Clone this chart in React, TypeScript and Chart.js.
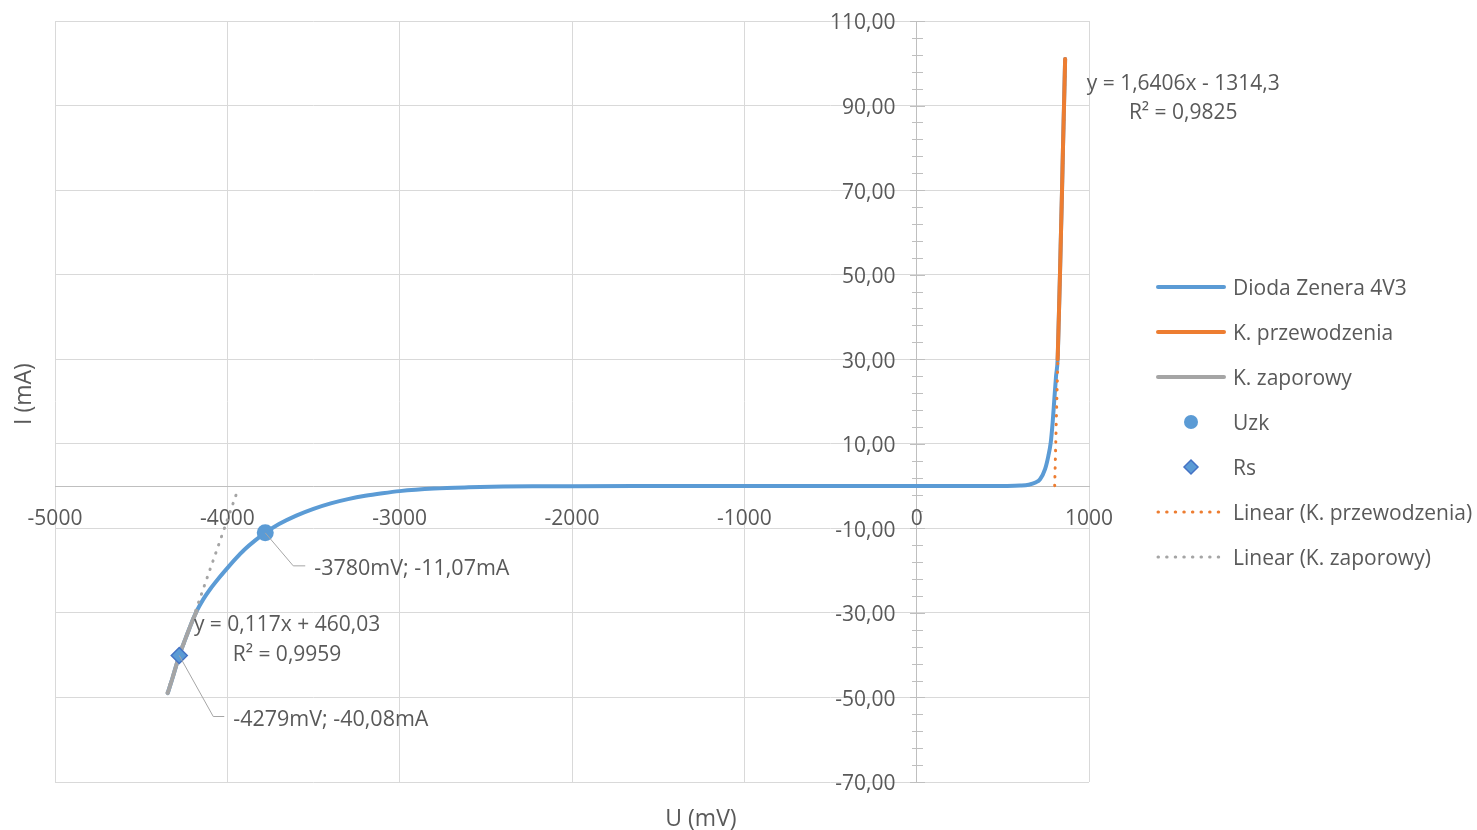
import React, { useEffect, useRef } from "react";
import { Chart, registerables } from "chart.js";

Chart.register(...registerables);

// ---------- data ----------
const xTicks = [-5000, -4000, -3000, -2000, -1000, 0, 1000];
const yTicks = [-70, -50, -30, -10, 10, 30, 50, 70, 90, 110];
const yMinorStep = 4;

// Dioda Zenera 4V3 (U in mV, I in mA)
const diodeU = [
  -4346, -4318, -4279, -4240, -4210, -4178, -4140, -4100, -4050, -4000, -3950, -3900, -3840, -3780,
  -3700, -3600, -3500, -3400, -3300, -3200, -3100, -3000, -2800, -2600, -2400, -2200, -2000, -1500,
  -1000, -500, 0, 200, 400, 500, 600, 650, 690, 716, 745, 764, 778, 789, 799, 809, 818, 825, 831.5,
  837.5, 843.5, 849, 855, 861.5,
];
const diodeI = [
  -49.0, -45.4, -40.08, -35.8, -32.6, -29.6, -26.8, -24.4, -21.8, -19.4, -17.1, -15.0, -12.9, -11.07,
  -9.0, -7.0, -5.4, -4.1, -3.1, -2.3, -1.7, -1.2, -0.6, -0.3, -0.12, -0.05, -0.02, -0.01,
  0, 0, 0, 0, 0, 0.03, 0.12, 0.32, 0.85, 1.6, 4.0, 7.1, 10.3, 15.0, 20.6, 26.1, 30.0, 40.0, 50.0,
  60.0, 70.0, 80.0, 90.0, 101.0,
];

// K. przewodzenia (forward part)
const forwardU = [818, 825, 831.5, 837.5, 843.5, 849, 855, 861.5];
const forwardI = [30.0, 40.0, 50.0, 60.0, 70.0, 80.0, 90.0, 101.0];

// K. zaporowy (reverse part)
const reverseU = [-4346, -4318, -4279, -4240, -4210, -4178];
const reverseI = [-49.0, -45.4, -40.08, -35.8, -32.6, -29.6];

// single points
const uzkU = [-3780];
const uzkI = [-11.07];
const rsU = [-4279];
const rsI = [-40.08];

// trendlines (end points)
const trendForwardU = [801, 862];
const trendForwardI = [0.1, 99.9];
const trendReverseU = [-4350, -3935];
const trendReverseI = [-48.9, -0.4];

const eqForward = ["y = 1,6406x - 1314,3", "R² = 0,9825"];
const eqReverse = ["y = 0,117x + 460,03", "R² = 0,9959"];

const xTitle = "U (mV)";
const yTitle = "I (mA)";

// ---------- styles ----------
const BLUE = "#5b9bd5";
const ORANGE = "#ed7d31";
const GRAY = "#a5a5a5";
const DARKBLUE = "#4472c4";
const TEXT = "#595959";
const FONT = '"Open Sans", sans-serif';
const DY = 2.5; // vertical text nudge

const pts = (xs: number[], ys: number[]) => xs.map((x, i) => ({ x, y: ys[i] }));
const fmtComma = (v: number) => v.toFixed(2).replace(".", ",");

const legendOrder = [0, 1, 2, 3, 4, 5, 6];

const decor = {
  id: "decor",
  beforeDatasetsDraw(chart: any) {
    const { ctx, scales } = chart;
    const x = scales.x;
    const y = scales.y;
    const ax = Math.round(x.getPixelForValue(0)) + 0.5;
    const ay = y.getPixelForValue(0);
    ctx.save();
    ctx.strokeStyle = "#bfbfbf";
    ctx.lineWidth = 1;
    const y0 = yTicks[0];
    const y1 = yTicks[yTicks.length - 1];
    for (let v = y0; v <= y1 + 1e-9; v += yMinorStep) {
      const py = Math.round(y.getPixelForValue(v)) + 0.5;
      ctx.beginPath();
      ctx.moveTo(ax - 5.5, py);
      ctx.lineTo(ax + 5.5, py);
      ctx.stroke();
    }
    y.ticks.forEach((t: any) => {
      const py = Math.round(y.getPixelForValue(t.value)) + 0.5;
      ctx.beginPath();
      ctx.moveTo(ax - 7.5, py);
      ctx.lineTo(ax + 7.5, py);
      ctx.stroke();
    });
    ctx.fillStyle = TEXT;
    ctx.font = `21px ${FONT}`;
    ctx.textAlign = "right";
    ctx.textBaseline = "middle";
    y.ticks.forEach((t: any) => {
      ctx.fillText(fmtComma(t.value), ax - 22, y.getPixelForValue(t.value) + DY);
    });
    ctx.textAlign = "center";
    x.ticks.forEach((t: any) => {
      ctx.fillText(String(t.value), x.getPixelForValue(t.value), ay + 30 + DY);
    });
    ctx.restore();
  },
  afterDatasetsDraw(chart: any) {
    const { ctx, scales } = chart;
    const x = scales.x;
    const y = scales.y;
    ctx.save();
    // data labels with leader lines
    const drawCallout = (u: number, i: number, ex: number, ey: number, len: number) => {
      const px = x.getPixelForValue(u);
      const py = y.getPixelForValue(i);
      ctx.strokeStyle = "#a6a6a6";
      ctx.lineWidth = 1;
      ctx.beginPath();
      ctx.moveTo(px, py);
      ctx.lineTo(px + ex, py + ey);
      ctx.lineTo(px + ex + len, py + ey);
      ctx.stroke();
      ctx.fillStyle = TEXT;
      ctx.font = `21.5px ${FONT}`;
      ctx.textAlign = "left";
      ctx.textBaseline = "middle";
      ctx.fillText(`${u}mV; ${fmtComma(i)}mA`, px + ex + len + 9, py + ey + 1 + DY);
    };
    drawCallout(uzkU[0], uzkI[0], 28, 33, 12);
    drawCallout(rsU[0], rsI[0], 34, 61, 11);

    // trendline equations
    ctx.fillStyle = TEXT;
    ctx.font = `21px ${FONT}`;
    ctx.textAlign = "center";
    ctx.textBaseline = "middle";
    const fx = x.getPixelForValue(trendForwardU[1]);
    const fy = y.getPixelForValue(trendForwardI[1]);
    ctx.fillText(eqForward[0], fx + 118, fy + 18 + DY);
    ctx.fillText(eqForward[1], fx + 118, fy + 47 + DY);
    const rx = x.getPixelForValue(trendReverseU[0]);
    const ry = y.getPixelForValue(trendReverseI[0]);
    ctx.fillText(eqReverse[0], rx + 120, ry - 70 + DY);
    ctx.fillText(eqReverse[1], rx + 120, ry - 40 + DY);
    ctx.restore();
  },
  afterDraw(chart: any) {
    const { ctx } = chart;
    const ds = chart.data.datasets;
    ctx.save();
    // legend
    const lx0 = 1157;
    const lx1 = 1225;
    const mx = 1191;
    const tx = 1233;
    legendOrder.forEach((idx, k) => {
      const d = ds[idx];
      const ly = 287 + 45 * k;
      if (d.showLine !== false && !d.borderDash) {
        ctx.strokeStyle = d.borderColor;
        ctx.lineWidth = 4;
        ctx.lineCap = "round";
        ctx.setLineDash([]);
        ctx.beginPath();
        ctx.moveTo(lx0 + 1, ly);
        ctx.lineTo(lx1 - 1, ly);
        ctx.stroke();
      } else if (d.borderDash) {
        ctx.strokeStyle = d.borderColor;
        ctx.lineWidth = 3;
        ctx.lineCap = "round";
        ctx.setLineDash([0.5, 8.1]);
        ctx.beginPath();
        ctx.moveTo(lx0 + 1, ly);
        ctx.lineTo(lx1 - 5, ly);
        ctx.stroke();
        ctx.setLineDash([]);
      } else if (d.pointStyle === "circle") {
        ctx.fillStyle = d.backgroundColor;
        ctx.beginPath();
        ctx.arc(mx, ly, 7, 0, Math.PI * 2);
        ctx.fill();
      } else {
        ctx.fillStyle = d.backgroundColor;
        ctx.strokeStyle = d.borderColor;
        ctx.lineWidth = 1.5;
        ctx.beginPath();
        ctx.moveTo(mx - 7, ly);
        ctx.lineTo(mx, ly - 7);
        ctx.lineTo(mx + 7, ly);
        ctx.lineTo(mx, ly + 7);
        ctx.closePath();
        ctx.fill();
        ctx.stroke();
      }
      ctx.fillStyle = TEXT;
      ctx.font = `21px ${FONT}`;
      ctx.textAlign = "left";
      ctx.textBaseline = "middle";
      ctx.fillText(d.label, tx, ly + DY);
    });
    // axis titles
    ctx.fillStyle = TEXT;
    ctx.font = `23px ${FONT}`;
    ctx.textAlign = "center";
    ctx.textBaseline = "middle";
    ctx.fillText(xTitle, 701, 817 + DY);
    ctx.translate(22 + DY, 394);
    ctx.rotate(-Math.PI / 2);
    ctx.fillText(yTitle, 0, 0);
    ctx.restore();
  },
};

export default function App() {
  const ref = useRef<HTMLCanvasElement | null>(null);
  useEffect(() => {
    if (!ref.current) return;
    const chart = new Chart(ref.current, {
      type: "scatter",
      data: {
        datasets: [
          {
            label: "Dioda Zenera 4V3",
            data: pts(diodeU, diodeI),
            showLine: true,
            borderColor: BLUE,
            backgroundColor: BLUE,
            borderWidth: 4,
            pointRadius: 0,
            cubicInterpolationMode: "monotone",
            borderCapStyle: "round",
            borderJoinStyle: "round",
            order: 7,
          },
          {
            label: "K. przewodzenia",
            data: pts(forwardU, forwardI),
            showLine: true,
            borderColor: ORANGE,
            backgroundColor: ORANGE,
            borderWidth: 4,
            pointRadius: 0,
            cubicInterpolationMode: "monotone",
            borderCapStyle: "round",
            borderJoinStyle: "round",
            order: 6,
          },
          {
            label: "K. zaporowy",
            data: pts(reverseU, reverseI),
            showLine: true,
            borderColor: GRAY,
            backgroundColor: GRAY,
            borderWidth: 4,
            pointRadius: 0,
            cubicInterpolationMode: "monotone",
            borderCapStyle: "round",
            borderJoinStyle: "round",
            order: 5,
          },
          {
            label: "Uzk",
            data: pts(uzkU, uzkI),
            showLine: false,
            pointStyle: "circle",
            pointRadius: 8.5,
            backgroundColor: BLUE,
            borderColor: BLUE,
            borderWidth: 0,
            order: 2,
          },
          {
            label: "Rs",
            data: pts(rsU, rsI),
            showLine: false,
            pointStyle: "rectRot",
            pointRadius: 8,
            backgroundColor: BLUE,
            borderColor: DARKBLUE,
            borderWidth: 1.5,
            order: 1,
          },
          {
            label: "Linear (K. przewodzenia)",
            data: pts(trendForwardU, trendForwardI),
            showLine: true,
            borderColor: ORANGE,
            backgroundColor: ORANGE,
            borderWidth: 3,
            borderDash: [0.5, 8.2],
            borderCapStyle: "round",
            pointRadius: 0,
            order: 4,
          },
          {
            label: "Linear (K. zaporowy)",
            data: pts(trendReverseU, trendReverseI),
            showLine: true,
            borderColor: GRAY,
            backgroundColor: GRAY,
            borderWidth: 3,
            borderDash: [0.5, 8.2],
            borderCapStyle: "round",
            pointRadius: 0,
            order: 3,
          },
        ],
      },
      options: {
        animation: false,
        responsive: false,
        layout: { padding: { left: 55, top: 21, right: 388, bottom: 48 } },
        plugins: {
          legend: { display: false },
          tooltip: { enabled: false },
        },
        scales: {
          x: {
            type: "linear",
            min: -5000,
            max: 1000,
            position: { y: 0 },
            afterBuildTicks: (s: any) => {
              s.ticks = xTicks.map((v) => ({ value: v }));
            },
            ticks: { display: false },
            grid: { color: "#d9d9d9", lineWidth: 1, drawTicks: false },
            border: { display: true, color: "#bfbfbf", width: 1 },
          },
          y: {
            type: "linear",
            min: -70,
            max: 110,
            position: { x: 0 },
            afterBuildTicks: (s: any) => {
              s.ticks = yTicks.map((v) => ({ value: v }));
            },
            ticks: { display: false },
            grid: { color: "#d9d9d9", lineWidth: 1, drawTicks: false },
            border: { display: true, color: "#bfbfbf", width: 1 },
          },
        },
      } as any,
      plugins: [decor as any],
    });
    return () => chart.destroy();
  }, []);
  return (
    <div style={{ position: "absolute", left: 0, top: 0, width: 1477, height: 830, background: "#fff" }}>
      <canvas ref={ref} width={1477} height={830} style={{ display: "block" }} />
    </div>
  );
}
